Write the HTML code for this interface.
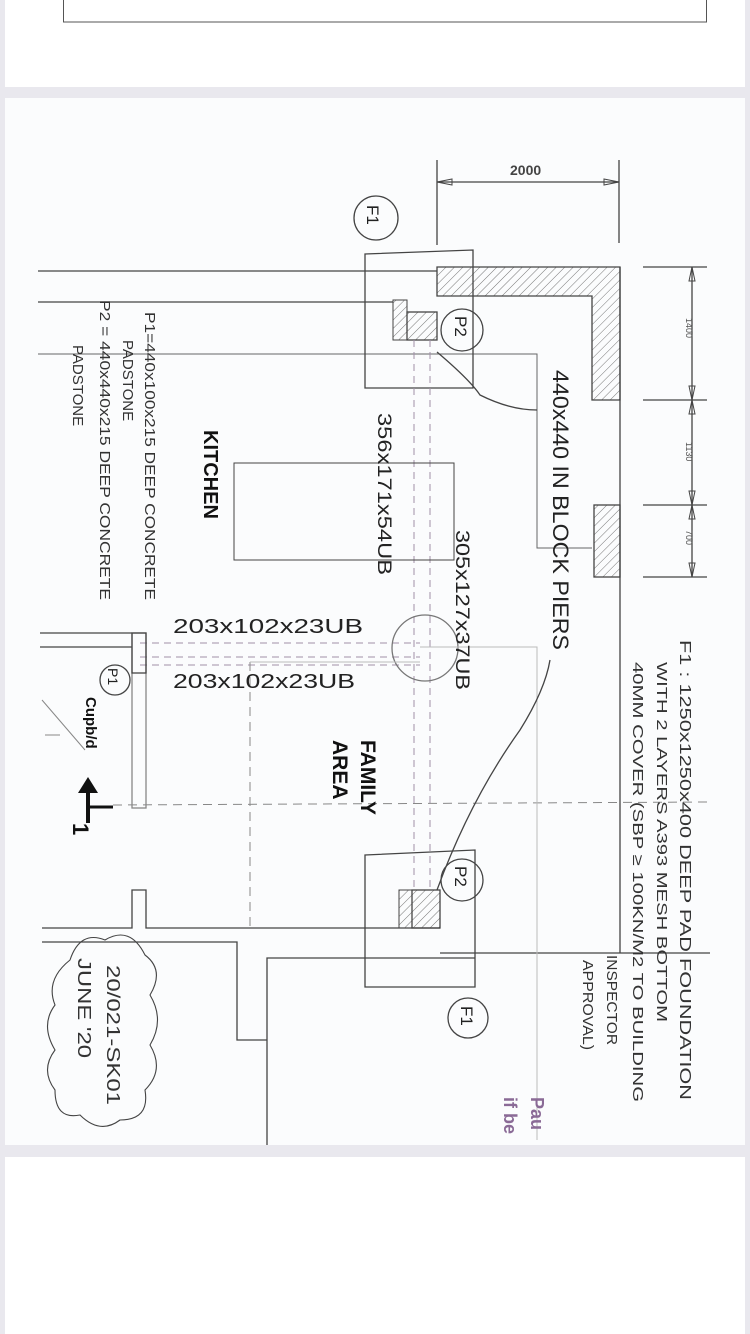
<!DOCTYPE html>
<html><head><meta charset="utf-8"><style>
html,body{margin:0;padding:0;background:#e9e8ee;}
body{width:750px;height:1334px;position:relative;overflow:hidden;font-family:"Liberation Sans",sans-serif;}
.p{position:absolute;left:5px;width:740px;background:#fff;}
svg{position:absolute;left:0;top:0;}
</style></head><body>
<div class="p" style="top:0;height:87px"></div>
<div class="p" style="top:98px;height:1047px;background:#fbfcfd"></div>
<div class="p" style="top:1157px;height:177px"></div>
<svg width="750" height="1334" viewBox="0 0 750 1334">
<defs>
<pattern id="h" width="6" height="6" patternUnits="userSpaceOnUse" patternTransform="rotate(45)">
<line x1="0" y1="0" x2="0" y2="6" stroke="#777" stroke-width="1"/></pattern>
</defs>
<rect x="63.5" y="-1" width="643" height="23" fill="none" stroke="#555" stroke-width="1"/>
<g stroke="#444" fill="none" stroke-width="1.3">
<line x1="437" y1="160" x2="437" y2="245"/><line x1="619" y1="160" x2="619" y2="243"/>
<line x1="437" y1="182" x2="619" y2="182"/>
<path d="M437 182 L452 179 L452 185 Z M619 182 L604 179 L604 185 Z" stroke-width="1"/>
<path d="M437 267 H620 V400 H592 V296 H437 Z" fill="url(#h)"/>
<rect x="594" y="505" width="26" height="72" fill="url(#h)"/>
<line x1="620" y1="267" x2="620" y2="953"/>
<line x1="440" y1="953" x2="710" y2="953"/>
<line x1="692" y1="267" x2="692" y2="577"/>
<line x1="643" y1="267" x2="707" y2="267"/><line x1="643" y1="400" x2="707" y2="400"/>
<line x1="643" y1="505" x2="707" y2="505"/><line x1="643" y1="577" x2="707" y2="577"/>
<g stroke-width="1"><path d="M692 267 l-3 14 h6z M692 400 l-3 -14 h6z M692 400 l-3 14 h6z M692 505 l-3 -14 h6z M692 505 l-3 14 h6z M692 577 l-3 -14 h6z"/></g>
<line x1="38" y1="271" x2="437" y2="271"/>
<line x1="38" y1="302" x2="393" y2="302"/>
<path d="M38 354 H537 V548 H592" stroke-width="1" stroke="#666"/>
<path d="M365 254 L473 250 L473 388 L365 388 Z"/>
<circle cx="376" cy="218" r="22"/>
<rect x="393" y="300" width="14" height="40" fill="url(#h)" stroke-width="1"/>
<rect x="407" y="312" width="30" height="28" fill="url(#h)"/>
<circle cx="462" cy="330" r="21"/>
<path d="M437 352 Q470 380 480 395 Q510 410 537 410"/>
<g stroke="#a08fa8" stroke-dasharray="7 5" stroke-width="1">
<line x1="414" y1="340" x2="414" y2="890"/><line x1="430" y1="340" x2="430" y2="890"/>
<line x1="140" y1="643" x2="420" y2="643"/><line x1="140" y1="657" x2="420" y2="657"/><line x1="140" y1="665" x2="420" y2="665"/>
</g>
<rect x="234" y="463" width="220" height="97" stroke-width="1"/>
<circle cx="425" cy="648" r="33" stroke="#777"/>
<line x1="40" y1="633" x2="132" y2="633"/><line x1="40" y1="647" x2="132" y2="647"/>
<rect x="132" y="633" width="14" height="175" stroke="#888"/>
<rect x="132" y="633" width="14" height="40"/>
<circle cx="115" cy="680" r="15"/>
<path d="M42 700 L85 750 M45 735 H60" stroke-width="1" stroke="#888"/>
<path d="M88 823 V790" stroke="#111" stroke-width="4"/>
<path d="M78 793 L88 777 L98 793 Z" fill="#111" stroke="none"/>
<path d="M88 807 H113" stroke="#111" stroke-width="3"/>
<g stroke="#888" stroke-dasharray="9 6" stroke-width="1">
<line x1="113" y1="805" x2="710" y2="802"/>
<line x1="250" y1="662" x2="250" y2="928"/>
</g>
<path d="M250 662 H420 M420 647 H537 V1140" stroke="#bbb" stroke-width="1"/>
<path d="M42 928 H132 V890 H146 V928 H440"/>
<path d="M42 942 H237 V1040 H267"/>
<path d="M267 1145 V958 H475"/>
<path d="M365 855 L475 850 L475 987 L365 987 Z"/>
<rect x="399" y="890" width="13" height="38" fill="url(#h)" stroke-width="1"/>
<rect x="412" y="890" width="28" height="38" fill="url(#h)"/>
<circle cx="462" cy="880" r="21"/>
<circle cx="468" cy="1018" r="20"/>
<path d="M437 890 Q470 800 520 730 Q545 690 550 660"/>
<path d="M70 960 q10 -30 35 -20 q25 -15 40 15 q20 15 5 40 q15 25 0 50 q15 25 -5 45 q5 30 -25 30 q-20 15 -40 -5 q-25 5 -25 -25 q-15 -20 0 -40 q-15 -25 0 -45 q-10 -25 15 -45 z" stroke-width="1.1"/>
</g>
<g fill="#333" font-family="Liberation Sans,sans-serif">
<text x="510" y="175" font-size="14" font-weight="bold" fill="#444">2000</text>
<g font-size="9" fill="#555">
<text transform="translate(686,318) rotate(90)">1400</text>
<text transform="translate(686,442) rotate(90)">1130</text>
<text transform="translate(686,530) rotate(90)">700</text>
</g>
<g font-size="17" fill="#222">
<text transform="translate(367,205) rotate(90)">F1</text>
<text transform="translate(455,316) rotate(90)">P2</text>
<text transform="translate(455,866) rotate(90)">P2</text>
<text transform="translate(461,1006) rotate(90)">F1</text>
<text transform="translate(108,668) rotate(90)" font-size="14">P1</text>
<text transform="translate(553,370) rotate(90)" font-size="22" textLength="280" lengthAdjust="spacingAndGlyphs">440x440 IN BLOCK PIERS</text>
<text transform="translate(378,413) rotate(90)" font-size="19" textLength="162" lengthAdjust="spacingAndGlyphs">356x171x54UB</text>
<text transform="translate(456,530) rotate(90)" font-size="19" textLength="160" lengthAdjust="spacingAndGlyphs">305x127x37UB</text>
<text x="173" y="633" font-size="20" textLength="190" lengthAdjust="spacingAndGlyphs">203x102x23UB</text>
<text x="173" y="688" font-size="20" textLength="182" lengthAdjust="spacingAndGlyphs">203x102x23UB</text>
</g>
<g font-size="15" fill="#333">
<text transform="translate(145,312) rotate(90)" textLength="288" lengthAdjust="spacingAndGlyphs">P1=440x100x215 DEEP CONCRETE</text>
<text transform="translate(123,340) rotate(90)">PADSTONE</text>
<text transform="translate(100,300) rotate(90)" textLength="300" lengthAdjust="spacingAndGlyphs">P2 = 440x440x215 DEEP CONCRETE</text>
<text transform="translate(73,345) rotate(90)">PADSTONE</text>
<text transform="translate(680,640) rotate(90)" font-size="16" textLength="460" lengthAdjust="spacingAndGlyphs">F1 : 1250x1250x400 DEEP PAD FOUNDATION</text>
<text transform="translate(657,662) rotate(90)" textLength="360" lengthAdjust="spacingAndGlyphs">WITH 2 LAYERS A393 MESH BOTTOM</text>
<text transform="translate(633,662) rotate(90)" textLength="440" lengthAdjust="spacingAndGlyphs">40MM COVER (SBP ≥ 100KN/M2 TO BUILDING</text>
<text transform="translate(607,955) rotate(90)" textLength="90" lengthAdjust="spacingAndGlyphs">INSPECTOR</text>
<text transform="translate(583,960) rotate(90)" textLength="90" lengthAdjust="spacingAndGlyphs">APPROVAL)</text>
<text transform="translate(107,965) rotate(90)" font-size="18" textLength="140" lengthAdjust="spacingAndGlyphs">20/021-SK01</text>
<text transform="translate(78,958) rotate(90)" font-size="18" textLength="100" lengthAdjust="spacingAndGlyphs">JUNE '20</text>
</g>
<g font-weight="bold" fill="#111">
<text transform="translate(204,430) rotate(90)" font-size="20">KITCHEN</text>
<text transform="translate(361,740) rotate(90)" font-size="21">FAMILY</text>
<text transform="translate(333,740) rotate(90)" font-size="21">AREA</text>
<text transform="translate(86,697) rotate(90)" font-size="15">Cupb/d</text>
<text transform="translate(73,823) rotate(90)" font-size="22">1</text>
</g>
<g font-weight="bold" fill="#8a6a96" font-size="18">
<text transform="translate(531,1097) rotate(90)">Pau</text>
<text transform="translate(504,1097) rotate(90)">if be</text>
</g>
</g>
</svg>
</body></html>
